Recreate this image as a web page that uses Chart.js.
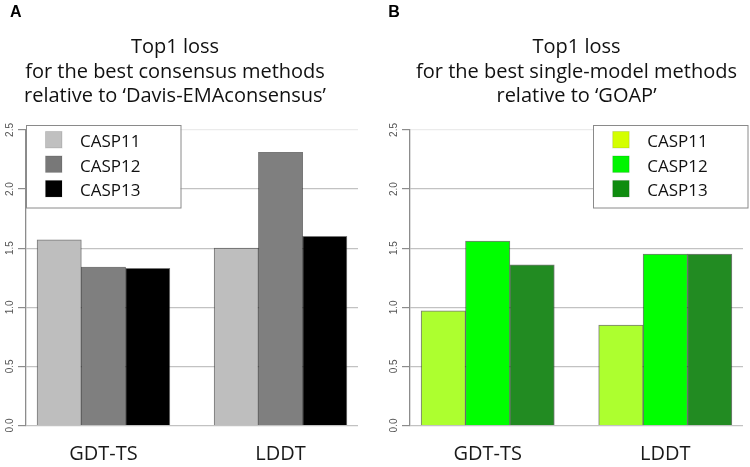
<!DOCTYPE html>
<html><head><meta charset="utf-8">
<script src="https://cdn.jsdelivr.net/npm/chart.js@4"></script>
<style>
html,body{margin:0;padding:0;background:#fff;}
#wrap{position:relative;width:750px;height:467px;overflow:hidden;background:#fff;}
.panel{position:absolute;top:0;width:375px;height:467px;}
canvas{display:block;}
</style></head><body>
<div id="wrap">
<div class="panel" style="left:0"><canvas id="cA" width="375" height="467"></canvas></div>
<div class="panel" style="left:375px"><canvas id="cB" width="375" height="467"></canvas></div>
</div>
<script>
// ---------- data ----------
const categories = ['GDT-TS', 'LDDT'];
const seriesNames = ['CASP11', 'CASP12', 'CASP13'];
const consensusCASP11 = [1.57, 1.50];
const consensusCASP12 = [1.34, 2.31];
const consensusCASP13 = [1.33, 1.60];
const singleCASP11 = [0.97, 0.85];
const singleCASP12 = [1.56, 1.45];
const singleCASP13 = [1.36, 1.45];
const yTicks = [0, 0.5, 1.0, 1.5, 2.0, 2.5];
const titleA = ['Top1 loss', 'for the best consensus methods', 'relative to \u2018Davis-EMAconsensus\u2019'];
const titleB = ['Top1 loss', 'for the best single-model methods', 'relative to \u2018GOAP\u2019'];

// ---------- styles ----------
const barColorsA = ['#bebebe', '#7f7f7f', '#000000'];
const legendColorsA = ['#c0c0c0', '#787878', '#000000'];
const barColorsB = ['#adff2f', '#00ff00', '#228b22'];
const legendColorsB = ['#d4ff00', '#00f500', '#0f8c0f'];

const STRIDE = seriesNames.length + 1; // bars per group + one gap slot

function groupPos(g, s) { return g * STRIDE + s + 1; }

function makeDatasets(seriesValues, colors) {
  return seriesValues.map((vals, s) => ({
    label: seriesNames[s],
    data: vals.map((v, g) => ({ x: groupPos(g, s), y: v })),
    backgroundColor: colors[s],
    borderColor: 'rgba(30,30,30,0.6)',
    borderWidth: 1,
    grouped: false,
    barPercentage: 1,
    categoryPercentage: 1
  }));
}

const decor = {
  id: 'decor',
  afterDraw(chart, args, o) {
    const ctx = chart.ctx, ca = chart.chartArea;
    ctx.save();
    ctx.fillStyle = '#000';
    ctx.font = 'bold 16px "Liberation Sans", Arial, sans-serif';
    ctx.textAlign = 'left';
    ctx.textBaseline = 'alphabetic';
    ctx.fillText(o.letter, o.letterX, 17);
    const w = 154.5, h = 82.5;
    const left = o.side === 'left' ? ca.left : ca.right + 4.7 - w;
    const top = ca.top - 5.3;
    ctx.fillStyle = '#fff';
    ctx.fillRect(left, top, w, h);
    ctx.strokeStyle = '#8a8a8a';
    ctx.lineWidth = 1;
    ctx.strokeRect(Math.round(left) + 0.5, Math.round(top) + 0.5, w, h);
    chart.data.datasets.forEach((ds, i) => {
      const sy = top + 6.8 + i * 24.5;
      const sx = left + 19.5;
      ctx.fillStyle = o.swatches[i];
      ctx.fillRect(sx, sy, 16.5, 16.5);
      ctx.strokeStyle = 'rgba(0,0,0,0.12)';
      ctx.strokeRect(sx, sy, 16.5, 16.5);
      ctx.fillStyle = '#111';
      ctx.font = '17px "Open Sans", sans-serif';
      ctx.textBaseline = 'alphabetic';
      ctx.fillText(ds.label, left + 54, sy + 15.6);
    });
    ctx.restore();
  }
};

function makeChart(id, seriesValues, colors, legendColors, title, letter, letterX, side, padL, padR, yWidth, titleFull) {
  return new Chart(document.getElementById(id), {
    type: 'bar',
    data: { datasets: makeDatasets(seriesValues, colors) },
    plugins: [decor],
    options: {
      responsive: false,
      animation: false,
      devicePixelRatio: 1,
      layout: { padding: { left: padL, right: padR, top: 0, bottom: 0 } },
      plugins: {
        legend: { display: false },
        tooltip: { enabled: false },
        title: {
          display: true,
          fullSize: titleFull,
          text: title,
          color: '#111',
          font: { family: '"Open Sans", sans-serif', size: 20, weight: 'normal', lineHeight: 1.2325 },
          padding: { top: 34.9, bottom: 21.1 }
        },
        decor: { letter: letter, letterX: letterX, side: side, swatches: legendColors }
      },
      scales: {
        x: {
          type: 'linear',
          offset: false,
          min: 0.25,
          max: STRIDE * categories.length - 0.25,
          grid: { display: false, drawTicks: false },
          border: { display: false },
          afterBuildTicks: (scale) => {
            scale.ticks = categories.map((c, g) => ({ value: groupPos(g, (seriesNames.length - 1) / 2) }));
          },
          afterFit: (scale) => { scale.height = 41.5; },
          ticks: {
            color: '#1a1a1a',
            padding: 17,
            maxRotation: 0,
            autoSkip: false,
            font: { family: '"Open Sans", sans-serif', size: 20 },
            callback: (v) => {
              const g = Math.round((v - groupPos(0, (seriesNames.length - 1) / 2)) / STRIDE);
              return categories[g];
            }
          }
        },
        y: {
          min: 0,
          max: 2.5,
          z: 1,
          afterBuildTicks: (scale) => { scale.ticks = yTicks.map(v => ({ value: v })); },
          afterFit: (scale) => { scale.width = yWidth; },
          grid: {
            color: (c) => (c.tick && c.tick.value === 2.5) ? 'rgba(0,0,0,0.08)' : 'rgba(0,0,0,0.24)',
            lineWidth: 1.2,
            tickColor: '#8c8c8c',
            tickLength: 8
          },
          border: { display: true, color: '#8c8c8c', width: 1.3 },
          ticks: {
            color: '#555',
            padding: 1,
            minRotation: 90,
            maxRotation: 90,
            crossAlign: 'center',
            font: { family: '"Liberation Sans", Arial, sans-serif', size: 10 },
            callback: (v) => Number(v).toFixed(1)
          }
        }
      }
    }
  });
}

makeChart('cA', [consensusCASP11, consensusCASP12, consensusCASP13], barColorsA, legendColorsA,
  titleA, 'A', 10, 'left', -8, 17, 34, true);
makeChart('cB', [singleCASP11, singleCASP12, singleCASP13], barColorsB, legendColorsB,
  titleB, 'B', 13.3, 'right', 0, 7, 35, false);
</script>
</body></html>
